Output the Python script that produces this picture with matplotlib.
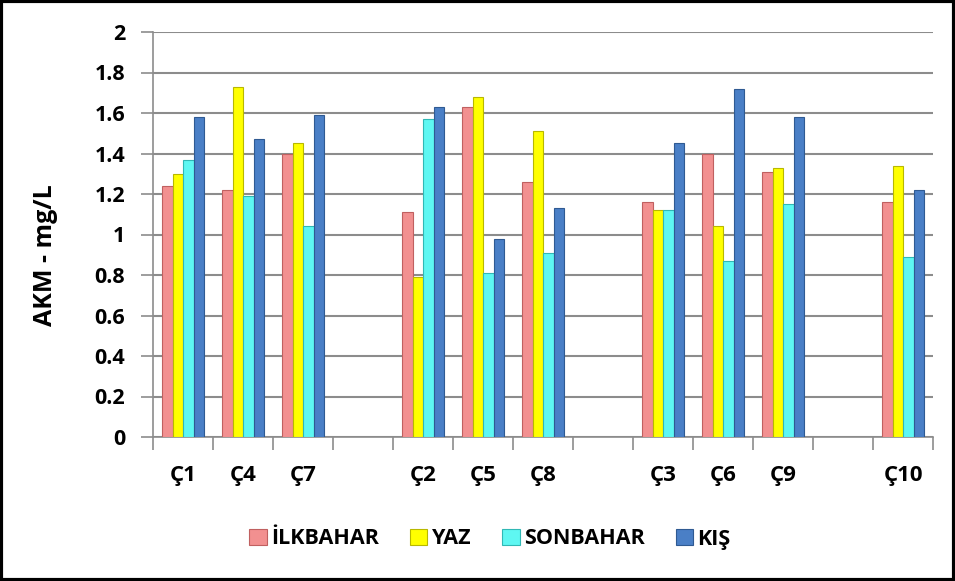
import matplotlib
matplotlib.use("Agg")
import matplotlib.pyplot as plt
from matplotlib.patches import Rectangle
import numpy as np

categories = ["Ç1", "Ç4", "Ç7", "", "Ç2", "Ç5", "Ç8", "", "Ç3", "Ç6", "Ç9", "", "Ç10"]
series_names = ["İLKBAHAR", "YAZ", "SONBAHAR", "KIŞ"]
ilkbahar = [1.24, 1.22, 1.40, np.nan, 1.11, 1.63, 1.26, np.nan, 1.16, 1.40, 1.31, np.nan, 1.16]
yaz      = [1.30, 1.73, 1.45, np.nan, 0.79, 1.68, 1.51, np.nan, 1.12, 1.04, 1.33, np.nan, 1.34]
sonbahar = [1.37, 1.19, 1.04, np.nan, 1.57, 0.81, 0.91, np.nan, 1.12, 0.87, 1.15, np.nan, 0.89]
kis      = [1.58, 1.47, 1.59, np.nan, 1.63, 0.98, 1.13, np.nan, 1.45, 1.72, 1.58, np.nan, 1.22]
y_ticks = [0, 0.2, 0.4, 0.6, 0.8, 1, 1.2, 1.4, 1.6, 1.8, 2]
y_tick_labels = ["0", "0.2", "0.4", "0.6", "0.8", "1", "1.2", "1.4", "1.6", "1.8", "2"]

colors = ["#F29090", "#FFFF00", "#5EF7F2", "#4A7FC6"]
edges = ["#C06060", "#B8B800", "#30B8B5", "#2F5A92"]

FONT = ["Open Sans", "DejaVu Sans"]
plt.rcParams["font.family"] = FONT

fig = plt.figure(figsize=(9.55, 5.81), dpi=100)
ax = fig.add_axes([153/955, (581-437)/581, (933-153)/955, (437-32)/581])

n = len(categories)
x = np.arange(n)
group_w = 0.7
bw = group_w / 4
series = [ilkbahar, yaz, sonbahar, kis]
for i, (vals, c, ec, name) in enumerate(zip(series, colors, edges, series_names)):
    ax.bar(x - group_w/2 + bw*(i+0.5), vals, width=bw, color=c, edgecolor=ec,
           linewidth=0.8, label=name, zorder=3)

ax.set_xlim(-0.5, n - 0.5)
ax.set_ylim(0, 2)
ax.set_yticks(y_ticks)
ax.set_yticklabels(y_tick_labels, fontsize=15.5, fontweight="bold")
ax.yaxis.grid(True, color="#8C8C8C", linewidth=1.5, zorder=0)
ax.set_axisbelow(True)

ax.set_xticks(np.arange(n + 1) - 0.5)
ax.set_xticklabels([])
ax.set_xticks(x, minor=True)
ax.set_xticklabels(categories, minor=True, fontsize=16, fontweight="bold")
ax.tick_params(axis="x", which="major", length=9, width=1.2, color="#8C8C8C", direction="out")
ax.tick_params(axis="x", which="minor", length=0, pad=20)
ax.tick_params(axis="y", length=9, width=1.2, color="#8C8C8C", pad=11)

for s in ["top", "right"]:
    ax.spines[s].set_visible(False)
for s in ["left", "bottom"]:
    ax.spines[s].set_color("#8C8C8C")
    ax.spines[s].set_linewidth(1.2)

ax.set_ylabel("AKM - mg/L", fontsize=18, fontweight="bold")
ax.yaxis.set_label_coords((58 - 153) / 780, (437 - 255) / 405)

leg = fig.legend(loc="center", bbox_to_anchor=(490/955, 1 - 539/581), ncol=4,
                 frameon=False, handlelength=0.8, handleheight=0.8, handletextpad=0.2,
                 columnspacing=1.45, prop={"weight": "bold", "size": 15.5})

fig.add_artist(Rectangle((0.0015, 0.0025), 0.997, 0.995, transform=fig.transFigure,
                         fill=False, edgecolor="black", linewidth=3))

fig.savefig("out.png", dpi=100)
